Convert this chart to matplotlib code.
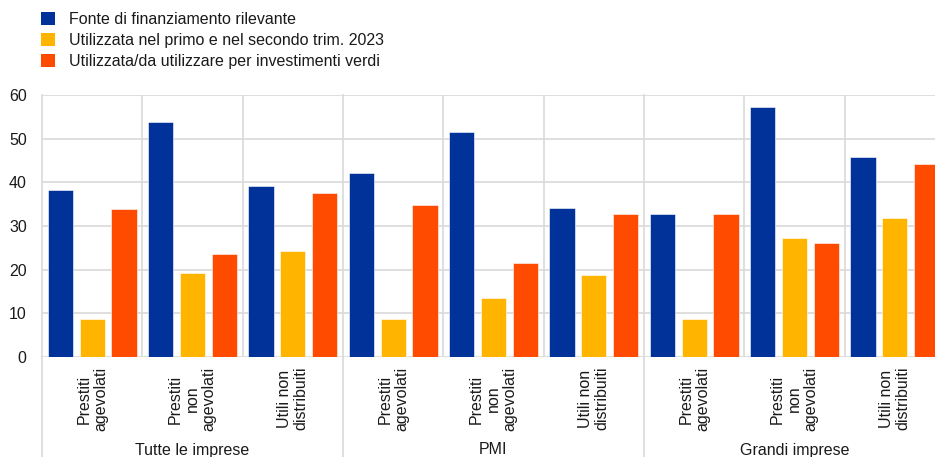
import matplotlib
matplotlib.use("Agg")
import matplotlib.pyplot as plt
from matplotlib.patches import Patch
import matplotlib.transforms as mtransforms
import numpy as np

plt.rcParams['font.family'] = ['Liberation Sans', 'DejaVu Sans']

groups = ["Tutte le imprese", "PMI", "Grandi imprese"]
subcats = ["Prestiti\nagevolati", "Prestiti\nnon\nagevolati", "Utili non\ndistribuiti"]
series_names = ["Fonte di finanziamento rilevante",
                "Utilizzata nel primo e nel secondo trim. 2023",
                "Utilizzata/da utilizzare per investimenti verdi"]
fonte = [38.2, 53.9, 39.1, 42.1, 51.5, 34.1, 32.7, 57.3, 45.8]
utilizzata_2023 = [8.8, 19.3, 24.3, 8.8, 13.5, 18.7, 8.8, 27.2, 31.8]
verdi = [33.9, 23.5, 37.5, 34.8, 21.5, 32.7, 32.7, 26.1, 44.1]
colors = ["#003299", "#FFB400", "#FF4B00"]
yticks = [0, 10, 20, 30, 40, 50, 60]

W, H = 935, 457
fig = plt.figure(figsize=(W / 100, H / 100), dpi=100)
ax_left, ax_bottom, ax_top, ax_right = 42, 357, 95, 945
ax = fig.add_axes([ax_left / W, (H - ax_bottom) / H, (ax_right - ax_left) / W, (ax_bottom - ax_top) / H])

n = len(fonte)
x = np.arange(n) + 0.5
offsets = [-0.317, 0.0, 0.317]
bw = 0.25
for vals, off, c in zip([fonte, utilizzata_2023, verdi], offsets, colors):
    ax.bar(x + off, vals, width=bw, color=c, edgecolor="white", linewidth=0.4, zorder=3)

ax.set_xlim(0, n)
ax.set_ylim(0, 60)
ax.set_yticks(yticks)
ax.set_yticklabels([str(t) for t in yticks], fontsize=11.5, color="#1a1a1a")
ax.tick_params(axis="y", length=0, pad=11)
ax.set_xticks([])
for s in ax.spines.values():
    s.set_visible(False)
grid_c = "#d9d9d9"
for t in yticks:
    ax.axhline(t, color=grid_c, linewidth=1.2, zorder=1)
for b in range(1, n):
    if b % 3 != 0:
        ax.axvline(b, color=grid_c, linewidth=1.2, zorder=1)

trans = mtransforms.blended_transform_factory(ax.transData, ax.transAxes)
bottom_ax = -(H - ax_bottom) / (ax_bottom - ax_top)
for b in range(0, n + 1, 3):
    ax.plot([b, b], [bottom_ax, 1], transform=trans, color=grid_c, linewidth=1.2,
            clip_on=False, zorder=1)

lab_y = -10 / (ax_bottom - ax_top)
for i in range(n):
    ax.text(x[i], lab_y, subcats[i % 3], transform=trans, rotation=90,
            ha="center", va="top", multialignment="center", fontsize=11.5,
            color="#1a1a1a", linespacing=1.15)
grp_y = -(450 - ax_bottom) / (ax_bottom - ax_top)
for g, name in enumerate(groups):
    ax.text(g * 3 + 1.5, grp_y, name, transform=trans, ha="center", va="center",
            fontsize=11.5, color="#1a1a1a")

handles = [Patch(facecolor=c, edgecolor="none") for c in colors]
fig.legend(handles, series_names, loc="upper left", bbox_to_anchor=(41 / W, 1 - 12 / H),
           frameon=False, fontsize=11.5, borderaxespad=0, borderpad=0,
           handlelength=0.88, handleheight=0.88, handletextpad=0.85, labelspacing=0.38,
           labelcolor="#1a1a1a")

fig.savefig("out.png", dpi=100)
